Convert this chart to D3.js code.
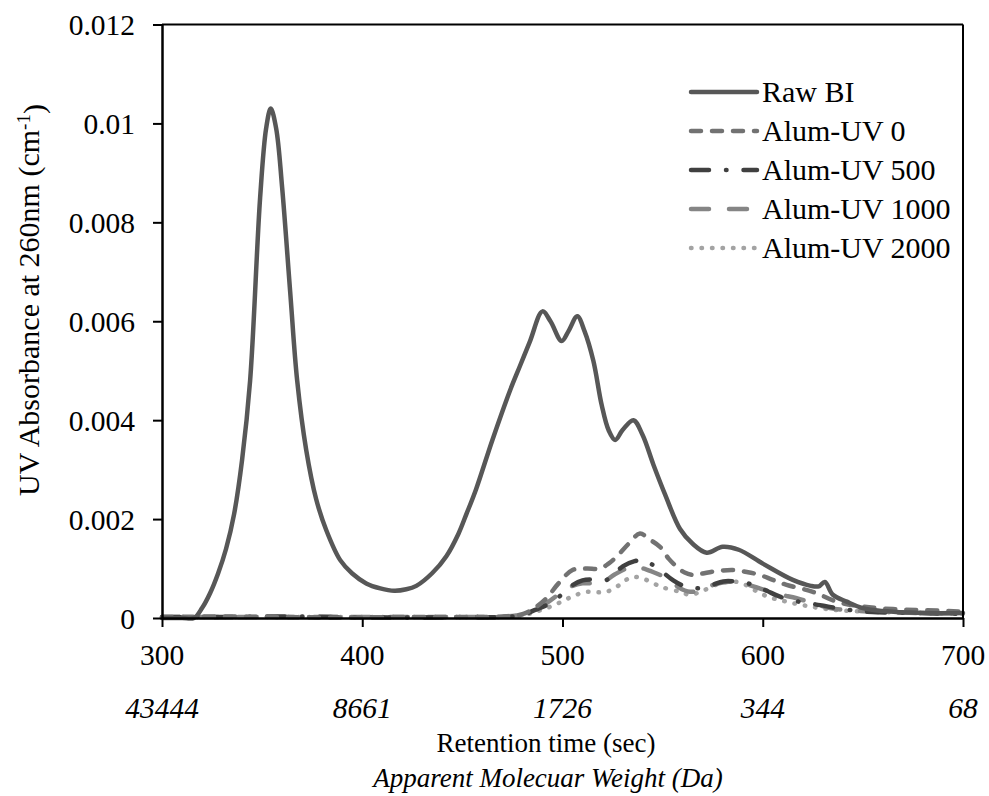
<!DOCTYPE html>
<html>
<head>
<meta charset="utf-8">
<script src="https://cdn.jsdelivr.net/npm/d3@7"></script>
<style>
  html, body { margin: 0; padding: 0; background: #fff; }
  svg { display: block; }
</style>
</head>
<body>
<svg id="chart" width="989" height="796"></svg>
<script>
// ---------- data (retention time in sec, UV absorbance in cm^-1) ----------
const xTicks = [300, 400, 500, 600, 700];
const mwLabels = ["43444", "8661", "1726", "344", "68"];
const yTicks = [0, 0.002, 0.004, 0.006, 0.008, 0.01, 0.012];
const yTickLabels = ["0", "0.002", "0.004", "0.006", "0.008", "0.01", "0.012"];
const seriesNames = ["Raw BI", "Alum-UV 0", "Alum-UV 500", "Alum-UV 1000", "Alum-UV 2000"];

const rawBI = [
  [300,0],[310,0],[316,0],[320,0.0002],[324,0.0005],[328,0.0009],[332,0.0014],[336,0.0021],
  [340,0.0032],[344,0.0048],[349,0.0085],[352,0.0099],[354.3,0.0103],[357,0.0099],[360,0.0087],
  [364,0.0066],[367.5,0.0048],[372,0.0034],[377,0.0024],[382,0.00178],[389,0.00117],[395,0.0009],
  [402,0.0007],[409,0.0006],[416,0.00055],[422,0.00058],[427,0.00065],[435,0.00091],[442,0.00125],
  [448,0.0017],[452,0.0021],[456.8,0.0026],[465,0.0036],[473.8,0.0046],[478.8,0.0051],[483.8,0.0056],
  [490,0.0062],[494,0.006],[499.6,0.0056],[503,0.0058],[507.4,0.0061],[511,0.0058],[515.4,0.0052],
  [519.6,0.0043],[523,0.0038],[526.3,0.0036],[530,0.0038],[535.4,0.0040],[540,0.0037],
  [545.4,0.0031],[551.2,0.0025],[558.7,0.0018],[565,0.0015],[572,0.00132],[580,0.00144],
  [588,0.00138],[600,0.0011],[615,0.00077],[624,0.00065],[628,0.00064],[631,0.00073],[635,0.00047],
  [642,0.00033],[650,0.0002],[660,0.00014],[680,0.0001],[700,0.0001]
];
const alumUV0 = [
  [300,0.00002],[330,0.00003],[360,0.00002],[390,0.00001],[420,0.00002],[450,0.00002],[470,0.00003],
  [480,0.00008],[486,0.0002],[492,0.0004],[498,0.0007],[505,0.00097],[512,0.001],[518.7,0.001],
  [523,0.0011],[527,0.00124],[533,0.0015],[538.7,0.00171],[543,0.0016],[548.7,0.00144],[553,0.0012],
  [557,0.00104],[561,0.00092],[565.3,0.00087],[570,0.0009],[575.3,0.00094],[585.3,0.00097],
  [592,0.00093],[598.6,0.00087],[605,0.00077],[611.9,0.00067],[625,0.00053],[637,0.00033],
  [650,0.00023],[665,0.00018],[680,0.00016],[700,0.00013]
];
const alumUV500 = [
  [300,0.00002],[330,0.00002],[360,0.00003],[390,0.00002],[420,0.00001],[450,0.00002],[470,0.00002],
  [480,0.00006],[486,0.00016],[492,0.00026],[498,0.00042],[504.5,0.00065],[510,0.00076],
  [515.3,0.00078],[522,0.00077],[526,0.0009],[530.3,0.00105],[536,0.00115],[540.4,0.00117],
  [544,0.0011],[548.7,0.00097],[555.3,0.00076],[561,0.00064],[567,0.0006],[574,0.00066],
  [580.3,0.00074],[588,0.00073],[595.3,0.00067],[602,0.00055],[608.6,0.00043],[618,0.00033],
  [628.6,0.00026],[640,0.00018],[655,0.00012],[680,0.0001],[700,0.00008]
];
const alumUV1000 = [
  [300,0.00002],[330,0.00002],[360,0.00002],[390,0.00002],[420,0.00002],[450,0.00002],[470,0.00003],
  [480,0.00007],[486,0.00018],[492,0.0003],[498.8,0.0005],[505,0.00065],[510,0.0007],[515.3,0.0007],
  [520,0.00072],[526,0.00088],[532,0.001],[537,0.00103],[542,0.00098],[547,0.0009],[553.7,0.00077],
  [558,0.00062],[563.7,0.00053],[570,0.00058],[576,0.00068],[582,0.00073],[590,0.0007],[600,0.00058],
  [608,0.00048],[616.9,0.0004],[625,0.0003],[633.5,0.0002],[645,0.00015],[660,0.00012],
  [680,0.0001],[700,0.0001]
];
const alumUV2000 = [
  [300,0.00002],[330,0.00002],[360,0.00002],[390,0.00002],[420,0.00002],[450,0.00002],[470,0.00002],
  [480,0.00005],[486,0.00012],[492,0.0002],[498,0.0003],[503,0.0004],[507,0.00047],[512,0.00053],
  [517,0.00052],[522,0.00053],[527,0.00063],[531,0.00075],[535,0.00083],[540,0.0008],[545.4,0.0007],
  [550,0.00062],[558.7,0.00053],[563.7,0.00047],[570,0.00055],[578.7,0.0007],[585.3,0.00074],
  [592,0.00066],[598.6,0.0005],[605,0.0004],[611.9,0.00033],[620,0.00026],[628.6,0.0002],
  [640,0.00015],[660,0.00012],[680,0.0001],[700,0.00008]
];

// ---------- layout ----------
const FONT = "'Liberation Serif', 'Times New Roman', 'DejaVu Serif', serif";
const svg = d3.select("#chart");
const mLeft = 162, mRight = 963, mTop = 24.5, mBottom = 618;

const x = d3.scaleLinear().domain([300, 700]).range([mLeft, mRight]);
const y = d3.scaleLinear().domain([0, 0.012]).range([mBottom, mTop]);

const styles = [
  { data: rawBI,      color: "#575757", dash: null,               width: 4.5 },
  { data: alumUV0,    color: "#727272", dash: "10,11",            width: 4.5 },
  { data: alumUV500,  color: "#404040", dash: "18,17,0.5,17",     width: 4.5 },
  { data: alumUV1000, color: "#858585", dash: "18,20",            width: 4.5 },
  { data: alumUV2000, color: "#a3a3a3", dash: "0.5,10",           width: 4.5 }
];

const line = d3.line()
  .x(d => x(d[0]))
  .y(d => y(d[1]))
  .curve(d3.curveCatmullRom.alpha(0.5));

const plot = svg.append("g");
[4, 3, 2, 1, 0].forEach(i => {
  const s = styles[i];
  plot.append("path")
    .datum(s.data)
    .attr("fill", "none")
    .attr("stroke", s.color)
    .attr("stroke-width", s.width)
    .attr("stroke-linecap", "round")
    .attr("stroke-linejoin", "round")
    .attr("stroke-dasharray", s.dash)
    .attr("d", line);
});

// frame (top & right)
svg.append("line").attr("x1", mLeft).attr("x2", mRight).attr("y1", mTop).attr("y2", mTop)
  .attr("stroke", "#000").attr("stroke-width", 2);
svg.append("line").attr("x1", mRight).attr("x2", mRight).attr("y1", mTop).attr("y2", mBottom)
  .attr("stroke", "#000").attr("stroke-width", 2);

// axes
const xAxis = d3.axisBottom(x).tickValues(xTicks).tickSize(9).tickFormat(d3.format("d")).tickSizeOuter(0);
const gx = svg.append("g").attr("transform", `translate(0,${mBottom})`).call(xAxis);
gx.select(".domain").attr("stroke", "#000").attr("stroke-width", 2.5);
gx.selectAll(".tick line").attr("stroke", "#000").attr("stroke-width", 2);
gx.selectAll(".tick text").remove();

const yAxis = d3.axisLeft(y).tickValues(yTicks).tickSize(9).tickSizeOuter(0).tickFormat((d, i) => yTickLabels[i]);
const gy = svg.append("g").attr("transform", `translate(${mLeft},0)`).call(yAxis);
gy.attr("font-family", null).attr("font-size", null);
gy.select(".domain").attr("stroke", "#000").attr("stroke-width", 2.5);
gy.selectAll(".tick line").attr("stroke", "#000").attr("stroke-width", 2);
gy.selectAll(".tick text")
  .attr("x", -27)
  .attr("dy", "0.34em")
  .attr("font-family", FONT)
  .attr("font-size", 29.5)
  .attr("fill", "#000");

// x tick labels
svg.append("g").selectAll("text").data(xTicks).join("text")
  .attr("x", d => x(d))
  .attr("y", 665)
  .attr("text-anchor", "middle")
  .attr("font-family", FONT)
  .attr("font-size", 29.5)
  .text(d => d);

// molecular weight labels
svg.append("g").selectAll("text").data(mwLabels).join("text")
  .attr("x", (d, i) => x(xTicks[i]))
  .attr("y", 718)
  .attr("text-anchor", "middle")
  .attr("font-family", FONT)
  .attr("font-size", 29.5)
  .attr("font-style", "italic")
  .text(d => d);

// axis titles
svg.append("text")
  .attr("x", 546).attr("y", 752)
  .attr("text-anchor", "middle")
  .attr("font-family", FONT)
  .attr("font-size", 27)
  .text("Retention time (sec)");
svg.append("text")
  .attr("x", 548).attr("y", 787)
  .attr("text-anchor", "middle")
  .attr("font-family", FONT)
  .attr("font-size", 27)
  .attr("font-style", "italic")
  .text("Apparent Molecuar Weight (Da)");

const yt = svg.append("text")
  .attr("transform", "translate(39,300) rotate(-90)")
  .attr("text-anchor", "middle")
  .attr("font-family", FONT)
  .attr("font-size", 30);
yt.append("tspan").text("UV Absorbance at 260nm (cm");
yt.append("tspan").attr("dy", "-0.45em").attr("font-size", 19).text("-1");
yt.append("tspan").attr("dy", "0.45em").text(")");

// legend
const legend = svg.append("g");
const legY0 = 92, legStep = 39;
styles.forEach((s, i) => {
  const ly = legY0 + i * legStep;
  legend.append("line")
    .attr("x1", 691).attr("x2", 757).attr("y1", ly).attr("y2", ly)
    .attr("stroke", s.color)
    .attr("stroke-width", s.width)
    .attr("stroke-linecap", "round")
    .attr("stroke-dasharray", s.dash);
  legend.append("text")
    .attr("x", 762).attr("y", ly + 10)
    .attr("font-family", FONT)
    .attr("font-size", 30)
    .text(seriesNames[i]);
});
</script>
</body>
</html>
